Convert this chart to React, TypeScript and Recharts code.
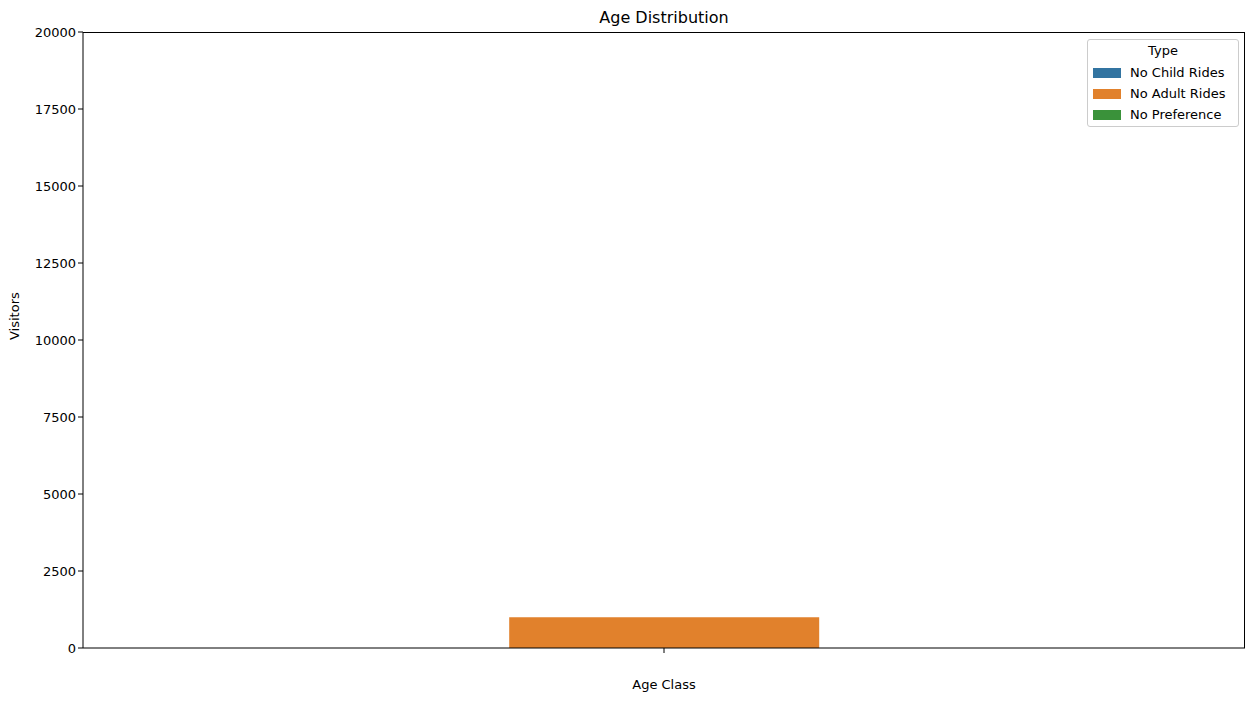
import { BarChart, Bar, XAxis, YAxis } from "recharts";

const categories = [""];
const noChildRides = [0];
const noAdultRides = [1000];
const noPreference = [0];
const yTicks = [0, 2500, 5000, 7500, 10000, 12500, 15000, 17500, 20000];

const data = categories.map((c, i) => ({
  cls: c,
  child: noChildRides[i],
  adult: noAdultRides[i],
  pref: noPreference[i],
}));

const legendItems = [
  { name: "No Child Rides", color: "#3274a1" },
  { name: "No Adult Rides", color: "#e1812c" },
  { name: "No Preference", color: "#3a923a" },
];

const font = "'DejaVu Sans', sans-serif";

export default function App() {
  return (
    <div style={{ position: "absolute", left: 0, top: 0, width: 1255, height: 701, background: "#fff", fontFamily: font }}>
      <BarChart
        width={1255}
        height={701}
        data={data}
        margin={{ top: 32, right: 10, left: 0, bottom: 0 }}
        barCategoryGap="10%"
        barGap={0}
      >
        <XAxis
          dataKey="cls"
          height={53}
          stroke="#000"
          tick={{ fill: "#000", fontSize: 13, fontFamily: font }}
          tickSize={5}
          label={{ value: "Age Class", position: "insideBottom", offset: 12, fill: "#000", fontSize: 13, fontFamily: font }}
        />
        <YAxis
          width={83}
          domain={[0, 20000]}
          ticks={yTicks}
          stroke="#000"
          tick={{ fill: "#000", fontSize: 13, fontFamily: font }}
          tickSize={5}
          label={{ value: "Visitors", angle: -90, position: "insideLeft", offset: 14, fill: "#000", fontSize: 13, fontFamily: font }}
        />
        <Bar dataKey="child" fill="#3274a1" isAnimationActive={false} />
        <Bar dataKey="adult" fill="#e1812c" isAnimationActive={false} />
        <Bar dataKey="pref" fill="#3a923a" isAnimationActive={false} />
      </BarChart>
      <div
        style={{
          position: "absolute", left: 83, top: 32, width: 1162, height: 616,
          borderTop: "1px solid #000", borderRight: "1px solid #000", boxSizing: "border-box", pointerEvents: "none",
        }}
      />
      <div style={{ position: "absolute", top: 8, left: 0, width: 1328, textAlign: "center", fontSize: 16 }}>
        Age Distribution
      </div>
      <div
        style={{
          position: "absolute", left: 1087, top: 39, width: 152, height: 88,
          border: "1px solid #ccc", borderRadius: 3, fontSize: 13, boxSizing: "border-box",
        }}
      >
        <div style={{ textAlign: "center", marginTop: 3, marginBottom: 4 }}>Type</div>
        {legendItems.map((it) => (
          <div key={it.name} style={{ display: "flex", alignItems: "center", height: 21, paddingLeft: 5 }}>
            <span style={{ width: 28, height: 10, background: it.color, display: "inline-block", marginRight: 9 }} />
            {it.name}
          </div>
        ))}
      </div>
    </div>
  );
}
